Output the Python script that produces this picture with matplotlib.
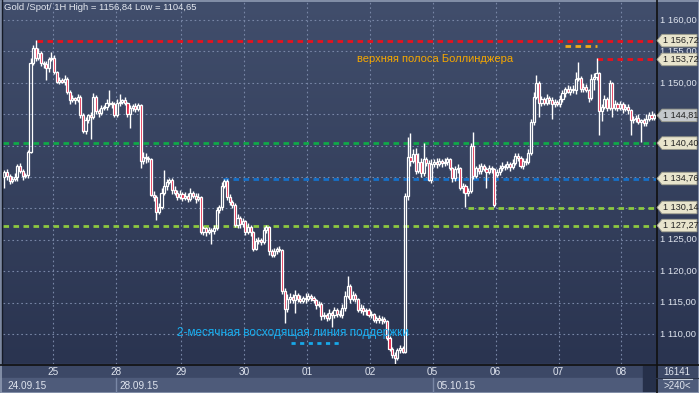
import matplotlib
matplotlib.use("Agg")
import matplotlib.pyplot as plt
import matplotlib.transforms as mtransforms
from matplotlib.colors import LinearSegmentedColormap
from matplotlib.patches import Polygon, Rectangle
import numpy as np

plt.rcParams["font.family"] = ["Liberation Sans", "DejaVu Sans"]

# hourly gold spot candles, 24.09.15 - 08.10.15
first_open = 1135.0
open_gaps = {188: 1135.3}

closes = [
    1135.8, 1135.2, 1134.4, 1134.7, 1135.0, 1136.7, 1136.0, 1135.2, 1135.3, 1139.0,
    1153.2, 1155.5, 1154.0, 1154.8, 1153.1, 1153.0, 1152.3, 1153.8, 1154.0, 1151.7,
    1150.2, 1150.4, 1150.2, 1150.6, 1148.5, 1147.3, 1147.6, 1147.2, 1147.8, 1144.8,
    1142.3, 1144.0, 1144.8, 1144.5, 1147.7, 1145.5, 1145.2, 1146.0, 1146.2, 1146.8,
    1146.6, 1146.7, 1144.9, 1146.8, 1147.0, 1147.2, 1146.8, 1145.0, 1146.0, 1146.3,
    1145.8, 1146.5, 1137.5, 1138.2, 1138.0, 1137.8, 1132.2, 1131.8, 1129.5, 1130.2,
    1132.5, 1133.5, 1134.2, 1134.6, 1132.9, 1132.5, 1131.8, 1132.3, 1131.7, 1132.0,
    1131.5, 1132.4, 1132.0, 1131.5, 1131.8, 1126.3, 1126.8, 1126.2, 1126.6, 1126.4,
    1126.8, 1129.8, 1130.2, 1133.6, 1134.4, 1131.8, 1131.0, 1130.6, 1127.4, 1128.5,
    1127.5, 1128.0, 1126.2, 1127.0, 1126.2, 1123.6, 1124.8, 1125.0, 1124.6, 1126.6,
    1127.0, 1123.2, 1122.6, 1123.2, 1123.6, 1123.4, 1116.8, 1114.0, 1115.5, 1115.9,
    1115.4, 1116.2, 1115.6, 1115.3, 1115.8, 1115.6, 1116.0, 1115.8, 1115.4, 1114.6,
    1114.8, 1112.8, 1113.0, 1112.6, 1113.4, 1113.0, 1113.8, 1113.2, 1113.0, 1114.2,
    1116.0, 1117.6, 1115.6, 1116.2, 1115.6, 1113.8, 1114.2, 1113.6, 1113.8, 1113.0,
    1113.2, 1112.2, 1112.6, 1112.2, 1112.4, 1112.0, 1109.4, 1107.6, 1106.6, 1106.2,
    1107.4, 1107.8, 1107.2, 1132.0, 1138.2, 1137.6, 1138.6, 1136.0, 1137.4, 1135.6,
    1137.8, 1137.2, 1134.6, 1137.0, 1137.4, 1137.0, 1137.6, 1137.2, 1137.4, 1137.8,
    1136.4, 1134.8, 1136.2, 1136.4, 1133.2, 1133.6, 1132.4, 1132.8, 1140.0, 1135.2,
    1136.4, 1136.0, 1136.8, 1136.2, 1135.8, 1136.4, 1136.2, 1130.6, 1135.8, 1136.4,
    1136.8, 1136.6, 1137.0, 1136.6, 1137.2, 1138.4, 1138.0, 1136.8, 1137.6, 1137.4,
    1138.8, 1143.8, 1147.8, 1150.0, 1146.8, 1147.4, 1146.8, 1147.6, 1147.2, 1146.6,
    1147.0, 1146.6, 1147.4, 1148.4, 1149.0, 1148.6, 1149.0, 1148.8, 1150.6, 1150.8,
    1149.0, 1149.4, 1148.8, 1147.6, 1150.6, 1150.9, 1151.6, 1145.5, 1146.2, 1147.4,
    1146.0, 1150.0, 1146.0, 1146.6, 1146.0, 1146.6, 1145.8, 1146.2, 1145.6, 1144.0,
    1144.2, 1144.4, 1143.8, 1144.0, 1143.6, 1144.2, 1144.9, 1144.4, 1144.81,
]

upper_wicks = [
    0.3, 0.5, 0.3, 0.4, 0.6, 0.3, 0.5, 0.2, 0.4, 0.3,
    0.8, 0.6, 1.3, 0.7, 0.3, 0.4, 0.5, 0.3, 0.9, 0.4,
    0.2, 0.5, 0.3, 0.6, 0.3, 0.3, 0.5, 0.2, 0.4, 0.3,
    0.4, 0.6, 0.3, 0.5, 0.6, 0.3, 0.4, 0.5, 0.3, 0.7,
    2.0, 0.4, 0.3, 0.6, 1.2, 0.3, 0.5, 0.2, 0.4, 0.3,
    0.5, 0.3, 0.2, 0.8, 0.6, 0.4, 0.2, 0.5, 0.3, 0.6,
    0.8, 2.6, 0.5, 0.3, 0.2, 0.6, 0.4, 0.7, 0.3, 0.6,
    0.4, 0.9, 0.3, 0.5, 0.6, 0.2, 0.4, 0.3, 0.5, 0.3,
    0.6, 0.5, 0.4, 0.6, 0.3, 0.3, 0.5, 0.4, 0.2, 0.6,
    0.3, 0.5, 0.2, 0.6, 0.4, 0.2, 0.5, 0.4, 0.3, 0.5,
    0.3, 0.2, 0.4, 0.5, 0.3, 0.4, 0.2, 0.5, 0.8, 0.6,
    0.5, 0.8, 0.4, 0.6, 0.3, 0.7, 0.5, 0.4, 0.3, 0.2,
    0.4, 0.3, 0.5, 0.4, 0.6, 0.3, 0.5, 0.4, 0.6, 0.5,
    0.8, 1.6, 0.4, 0.6, 0.3, 0.2, 0.5, 0.4, 0.3, 0.4,
    0.5, 0.2, 0.3, 0.5, 0.4, 0.3, 0.2, 0.3, 0.4, 0.5,
    0.3, 0.4, 0.3, 0.5, 3.2, 3.8, 0.8, 1.0, 1.4, 0.6,
    2.6, 0.4, 0.5, 0.8, 0.4, 0.6, 0.5, 0.3, 0.7, 0.4,
    0.3, 0.2, 0.5, 0.6, 0.2, 0.4, 0.3, 0.5, 0.4, 2.2,
    0.4, 0.6, 0.5, 0.3, 0.4, 0.5, 0.3, 0.2, 0.4, 0.5,
    0.6, 0.3, 0.5, 0.4, 0.6, 0.5, 0.4, 0.3, 0.5, 0.4,
    0.6, 0.5, 0.8, 1.2, 0.3, 0.5, 0.4, 0.6, 0.3, 0.5,
    0.4, 0.3, 0.6, 0.5, 0.4, 0.7, 0.5, 0.6, 1.2, 2.5,
    0.3, 0.6, 0.4, 0.2, 0.8, 0.6, 2.3, 0.2, 0.5, 0.6,
    0.4, 0.5, 0.2, 0.6, 0.4, 0.5, 0.3, 0.4, 0.5, 0.2,
    0.5, 0.4, 0.6, 0.3, 0.4, 0.9, 0.5, 0.6, 0.4,
]

lower_wicks = [
    1.8, 0.6, 0.5, 0.4, 0.3, 0.6, 0.4, 0.7, 0.3, 0.4,
    0.2, 0.4, 0.6, 0.3, 0.5, 0.6, 1.8, 0.5, 0.4, 0.3,
    0.3, 0.4, 0.2, 0.5, 0.3, 0.6, 0.4, 0.5, 0.3, 0.4,
    0.3, 0.5, 0.4, 3.5, 0.3, 0.5, 0.6, 0.3, 0.4, 0.5,
    0.3, 0.6, 0.4, 0.3, 0.5, 0.4, 0.3, 0.4, 2.2, 0.5,
    0.4, 0.3, 1.0, 0.5, 0.7, 0.4, 0.3, 0.6, 1.3, 0.4,
    0.3, 0.4, 0.5, 0.3, 0.6, 0.4, 0.5, 0.3, 0.6, 0.4,
    0.5, 0.3, 0.4, 0.6, 0.3, 0.4, 0.5, 0.6, 0.3, 2.0,
    0.4, 0.3, 0.5, 0.4, 0.3, 0.5, 0.4, 0.6, 0.3, 0.5,
    0.7, 0.4, 0.5, 0.3, 0.6, 0.4, 0.3, 0.5, 0.4, 0.3,
    0.5, 0.6, 0.3, 0.4, 0.5, 0.3, 0.4, 2.3, 0.5, 0.6,
    0.4, 2.0, 0.5, 0.3, 0.4, 0.6, 0.3, 0.5, 0.4, 0.6,
    0.3, 0.5, 0.4, 0.6, 0.3, 1.9, 0.4, 0.5, 0.3, 0.4,
    0.5, 0.3, 0.6, 0.4, 0.5, 0.3, 0.4, 0.6, 0.5, 0.3,
    0.4, 0.3, 0.5, 0.4, 0.6, 0.3, 0.4, 0.3, 0.5, 1.5,
    0.4, 0.5, 0.3, 0.2, 0.6, 0.8, 0.4, 0.5, 0.3, 0.6,
    0.4, 0.5, 0.3, 0.6, 0.4, 0.5, 0.3, 0.6, 0.4, 0.5,
    0.3, 0.6, 0.4, 0.5, 0.3, 0.8, 2.2, 0.4, 0.3, 0.5,
    0.4, 0.6, 0.5, 0.3, 2.6, 0.4, 0.5, 0.4, 0.3, 0.5,
    0.4, 0.5, 0.3, 0.6, 0.4, 0.3, 0.5, 0.4, 0.6, 0.5,
    0.4, 0.3, 0.5, 0.4, 2.2, 0.5, 0.3, 0.4, 0.6, 2.3,
    0.4, 0.3, 0.5, 0.4, 0.6, 0.3, 0.5, 0.4, 0.6, 0.3,
    0.5, 0.4, 0.3, 0.6, 0.4, 1.8, 0.5, 3.8, 1.6, 0.4,
    0.5, 0.3, 1.5, 0.4, 0.5, 0.4, 0.6, 0.3, 0.5, 2.3,
    0.4, 0.5, 0.3, 3.2, 0.4, 0.5, 0.3, 0.4, 0.3,
]

# day boundaries (bar index) and labels
day_starts = [18.5, 42.5, 67.5, 91.5, 115.5, 139.5, 163.5, 187.5, 211.5, 235.5]
day_labels = ["25", "28", "29", "30", "01", "02", "05", "06", "07", "08"]
week_starts = [-0.5, 42.5, 163.5]
week_labels = ["24.09.15", "28.09.15", "05.10.15"]

# horizontal levels: value, first bar, colour
levels = [1156.72, 1153.72, 1140.40, 1134.76, 1130.14, 1127.27]
level_starts = [12.5, 226, -0.5, 83.5, 177, -0.5]
level_colors = ["#e8101c", "#e8101c", "#10a848", "#1570c8", "#8cc840", "#8cc840"]
last_price = 1144.81
price_ticks = [1160, 1155, 1150, 1125, 1120, 1115, 1110]

W, H = 699, 393

fig = plt.figure(figsize=(W / 100, H / 100), dpi=100)
fig.patch.set_facecolor("#3a4662")

# background layer in pixel coordinates
bg = fig.add_axes([0, 0, 1, 1], zorder=0)
bg.set_xlim(0, W)
bg.set_ylim(H, 0)
bg.axis("off")
grad = np.linspace(0, 1, 256).reshape(-1, 1)
cmap = LinearSegmentedColormap.from_list("bg", ["#414e6c", "#2a3450"])
bg.imshow(grad, cmap=cmap, aspect="auto", extent=(0, W, 364, 0))
bg.add_patch(Rectangle((0, 364), W, 14, color="#3c4866"))
bg.add_patch(Rectangle((0, 378), W, 15, color="#4e5b7a"))
bg.add_patch(Rectangle((643, 366), 12, 27, color="#26304a"))

# main price axes
ax = fig.add_axes([3 / W, 29 / H, 653 / W, 362 / H], zorder=1)
ax.patch.set_alpha(0)
ax.set_xlim(-0.5, 248.7)
ax.set_ylim(1105.22, 1162.87)
ax.set_xticks([])
ax.set_yticks([])
for s in ax.spines.values():
    s.set_visible(False)

grid_kw = dict(color="#7886a6", lw=0.8, linestyle=(0, (1.5, 2.5)), zorder=1)
for v in range(1110, 1161, 5):
    ax.axhline(v, **grid_kw)
for d in day_starts:
    ax.axvline(d, **grid_kw)

# level lines
for v, start, col in zip(levels, level_starts, level_colors):
    ax.hlines(v, start, 248.7, color=col, lw=2.0, linestyle=(0, (2, 1.6)), zorder=2)

# short marker lines
ax.hlines(1155.9, 214, 226, color="#f0a818", lw=2.0, linestyle=(0, (2, 1.6)), zorder=2)
ax.hlines(1108.6, 109.4, 128.1, color="#18a8e8", lw=2.0, linestyle=(0, (1.5, 1.6)), zorder=2)

# candles
c = np.array(closes)
o = np.r_[first_open, c[:-1]]
for k, v in open_gaps.items():
    o[k] = v
hi = np.maximum(o, c) + np.array(upper_wicks)
lo = np.minimum(o, c) - np.array(lower_wicks)
x = np.arange(len(c))
top = np.maximum(o, c)
bot = np.minimum(o, c)
height = np.maximum(top - bot, 0.15)
ax.vlines(x, top, hi, color="white", lw=1.0, zorder=3)
ax.vlines(x, lo, bot, color="white", lw=1.0, zorder=3)
fills = ["#e0183c" if cc < oo else "none" for oo, cc in zip(o, c)]
ax.bar(x, height, bottom=bot, width=0.8, color=fills, edgecolor="white",
       linewidth=0.9, zorder=4)

ax.text(134.6, 1153.8, "верхняя полоса Боллинджера", color="#f6a800",
        fontsize=8, va="center", ha="left", zorder=5)
ax.text(66, 1110.1, "2-месячная восходящая линия поддержки", color="#18aef0",
        fontsize=8.5, va="center", ha="left", zorder=5)

# foreground layer: frames, axis labels, price tags
fg = fig.add_axes([0, 0, 1, 1], zorder=3)
fg.set_xlim(0, W)
fg.set_ylim(H, 0)
fg.axis("off")
fg.patch.set_alpha(0)

fg.plot([0, W], [364.5, 364.5], color="#101010", lw=1.2)
fg.plot([656.5, 656.5], [0, H], color="#101010", lw=1.2)
fg.plot([2, 2], [0, 364], color="#151a26", lw=1.0)
fg.add_patch(Rectangle((0.5, 0.5), W - 1, H - 1, fill=False, ec="#8e9ab2", lw=1.2))

fg.text(4, 8, "Gold /Spot/ 1H High = 1156,84 Low = 1104,65", color="#e4e8f0",
        fontsize=6.8, va="center", ha="left")

xy_px = mtransforms.blended_transform_factory(ax.transData, fg.transData)
for d, lab in zip(day_starts, day_labels):
    fg.text(d, 372, lab, transform=xy_px, color="#dfe4ee", fontsize=7.2,
            ha="center", va="center")
for d, lab in zip(week_starts, week_labels):
    if d > 0:
        fg.plot([d, d], [378, 393], transform=xy_px, color="#7a88a6", lw=1.0)
    fg.text(d + 1.6, 386, lab, transform=xy_px, color="#dfe4ee", fontsize=7.2,
            ha="left", va="center")
fg.plot([656, W], [378, 378], color="#2a3348", lw=0.8)

fg.text(677, 372, "16141", color="#dfe4ee", fontsize=7, ha="center", va="center")
fg.plot([663, 692], [379, 379], color="#c8d0dc", lw=0.8)
fg.text(677, 386, ">240<", color="#dfe4ee", fontsize=7, ha="center", va="center")

# price axis labels and tags (x in pixels, y in price)
px_price = mtransforms.blended_transform_factory(fg.transData, ax.transData)
for v in price_ticks:
    fg.text(660, v, "1 {:.2f}".format(v - 1000).replace(".", ","), transform=px_price,
            color="#dfe4ee", fontsize=6.8, ha="left", va="center")


def tag(v, face):
    h = 1.0
    pts = [(657, v), (662, v + h), (697, v + h), (697, v - h), (662, v - h)]
    fg.add_patch(Polygon(pts, closed=True, transform=px_price, fc=face,
                         ec="#9a9a8a", lw=0.6, zorder=6))
    fg.text(663, v, "1 {:.2f}".format(v - 1000).replace(".", ","),
            transform=px_price, color="#222222", fontsize=6.6, ha="left",
            va="center", zorder=7)


for v in levels:
    tag(v, "#e8e4cc")
tag(last_price, "#c4c8cc")

fig.savefig("out.png", dpi=100, facecolor=fig.get_facecolor())
